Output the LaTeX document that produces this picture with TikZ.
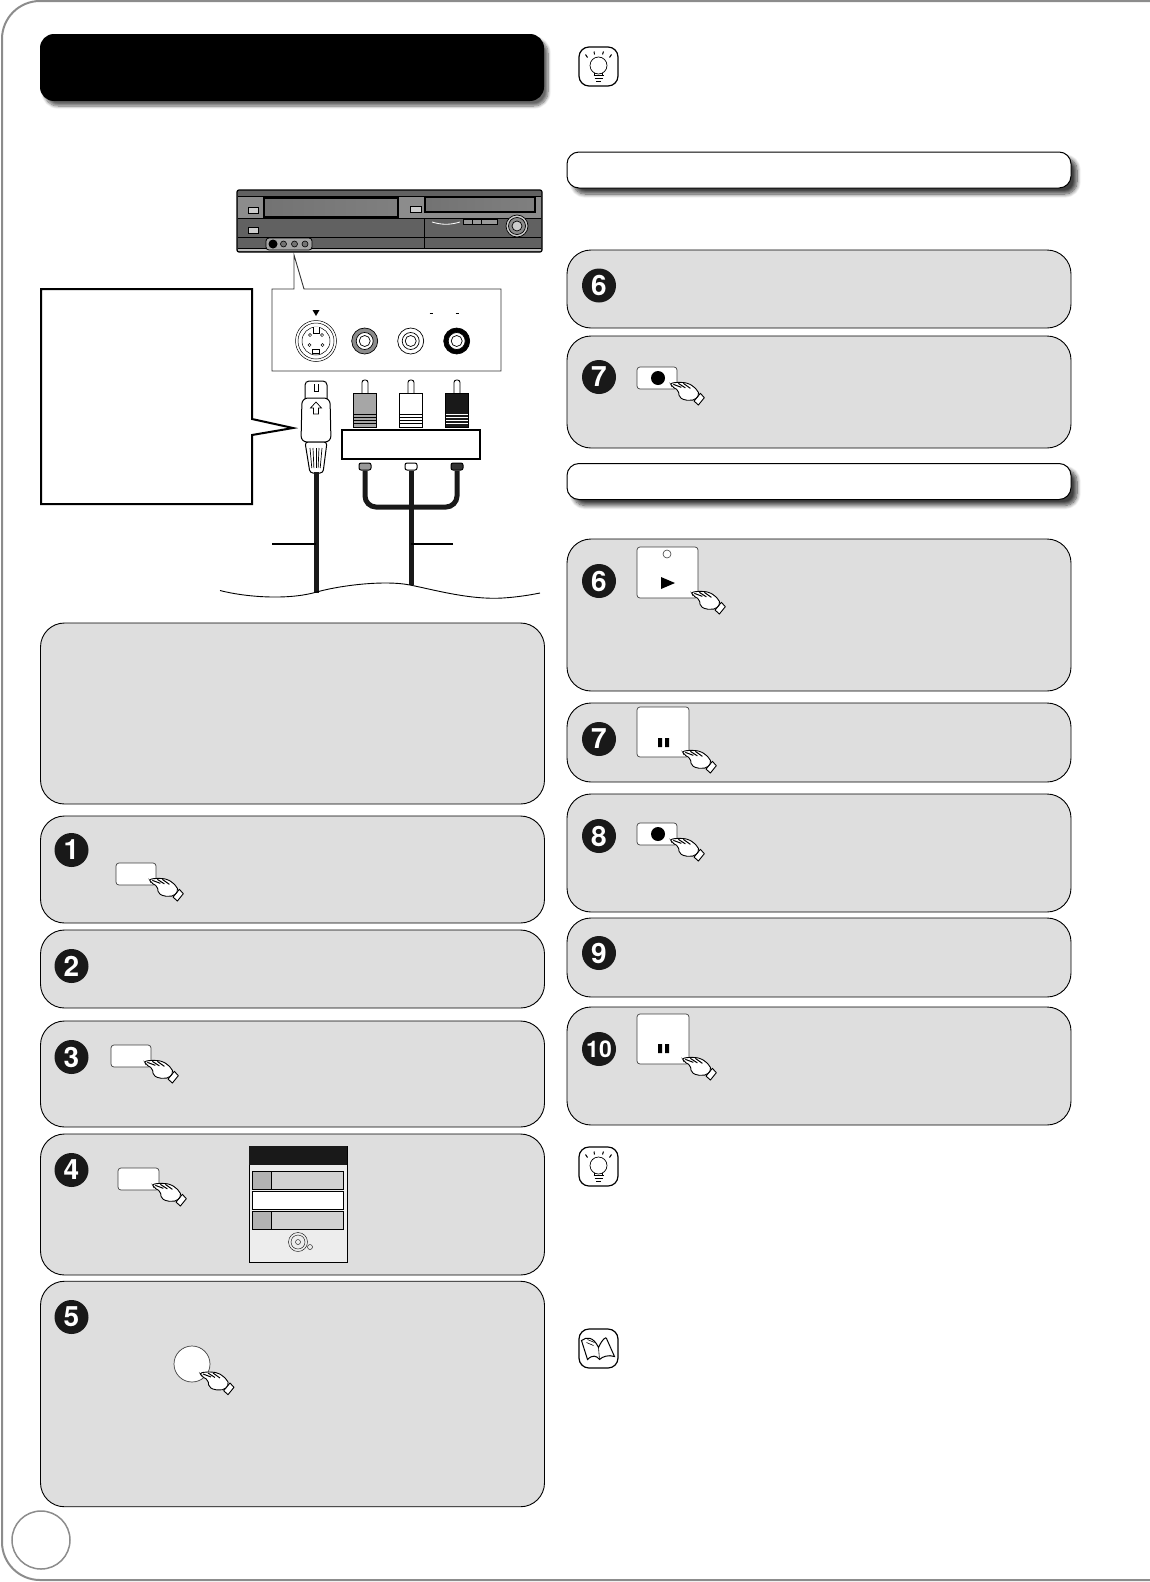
\documentclass[tikz,border=0pt]{standalone}
\usepackage{fontspec}
\setmainfont{TeX Gyre Heros}
\usepackage{xcolor}
\usepackage{tikz}
\usetikzlibrary{shapes.geometric, positioning, calc, shadows.blur}

\tikzset{
    panel/.style={rectangle, draw=black, line width=0.9pt, fill=black!13, rounded corners=24, minimum width=504, minimum height=#1, inner sep=0},
    titlebar/.style={rectangle, fill=black, rounded corners=14, minimum width=504, minimum height=67, inner sep=0,
        blur shadow={shadow xshift=4pt, shadow yshift=-5pt, shadow blur radius=3pt, shadow blur steps=8, shadow opacity=60}},
    subbar/.style={rectangle, draw=black, line width=1pt, fill=white, rounded corners=12, minimum width=504, minimum height=36, inner sep=0,
        blur shadow={shadow xshift=6pt, shadow yshift=-6pt, shadow blur radius=4pt, shadow blur steps=8, shadow opacity=75}},
    stepnum/.style={circle, fill=black!90, text=white, minimum size=34, inner sep=0, font=\fontsize{28}{28}\selectfont\bfseries},
    button/.style={rectangle, draw=black!75, fill=white, line width=0.7pt, rounded corners=3, minimum width=#1, inner sep=0},
    cable/.style={line width=5pt, black!90},
    thinline/.style={line width=1.2pt, black},
    menurow/.style={rectangle, draw=black, fill=#1, line width=0.8pt, minimum width=91, minimum height=18, inner sep=0},
    pics/hand/.style={code={
        \draw[fill=white, line width=0.9pt, line join=round, shift={(-7,-6)}] (30,10) -- (34,14.3) -- (28,21.7) -- (23.7,17.7) -- cycle;
        \draw[fill=white, line width=0.9pt, rounded corners=2, shift={(-7,-6)}] (0,0) -- (6,-1) -- (12,-1) -- (18,0) -- (23,3) -- (27,7) -- (29,11) -- (24.3,16.7)
            -- (15,17) -- (9,14) -- (8,7) -- (1.7,3.3) -- cycle;
        \draw[line width=1pt, shift={(-7,-6)}] (3,1) -- (11,4) (8,0) -- (15,4.5) (13,0) -- (20,5);
    }},
    pics/bulbicon/.style={code={
        \draw[line width=1.2pt, rounded corners=10] (-19.5,-19.5) rectangle (19.5,19.5);
        \draw[line width=0.7pt] (0,-1) circle (8.5);
        \draw[line width=0.7pt] (-4,6.5) -- (-4,9) (4,6.5) -- (4,9);
        \draw[line width=1.1pt] (-5,9) -- (5,9) (-4,12) -- (4,12) (-2.5,15) -- (2.5,15);
        \draw[line width=1pt] (-11,-9) -- (-13,-12) (-4,-12) -- (-4.5,-15) (4,-12) -- (5,-15) (11,-9) -- (13,-12);
    }},
    pics/bookicon/.style={code={
        \draw[line width=1.2pt, rounded corners=10] (-19.5,-19.5) rectangle (19.5,19.5);
        \draw[fill=white, line width=1pt] (-17,-8) .. controls (-12,-12) and (-5,-12) .. (0,-1) .. controls (4,-10) and (8,-12) .. (8,-10) -- (16,8)
            .. controls (10,6) and (4,8) .. (1,11) .. controls (-2,7) and (-6,6) .. (-11,11) -- cycle;
        \draw[line width=0.6pt] (0,-1) -- (1,11) (-11,-9) -- (-4,-6) (-12,-6) -- (-5,-3);
    }},
    pics/rcaplug/.style 2 args={code={
        \draw[fill=white, line width=0.9pt, rounded corners=2.5] (-3,13) -- (-3,0) -- (3,0) -- (3,13);
        \draw[fill=#1, line width=0.9pt] (-11.5,13) rectangle (11.5,47);
        \draw[#2, line width=1pt] (-11,34) -- (11,34) (-11,37) -- (11,37) (-11,40) -- (11,40) (-11,43) -- (11,43);
    }},
    pics/rcajack/.style={code={
        \draw[fill=#1, line width=0.7pt] (0,0) circle (13);
        \draw[fill=white, line width=0.7pt] (0,0) circle (8.5);
        \draw[line width=0.7pt] (0,0) circle (5.5);
    }},
}

\begin{document}
\begin{tikzpicture}[x=1pt, y=-1pt]
    \useasboundingbox (0,0) rectangle (1149,1582);
    \draw[black!45, line width=2pt, rounded corners=38] (1152,1) -- (2,1) -- (2,1580) -- (1152,1580);
    \node[circle, draw=black!45, line width=1.5pt, minimum size=58, inner sep=0] (pagenum) at (41,1540) {};

    \node[titlebar] (title) at (292,67.5) {};
    \pic at (598.5,66.5) {bulbicon};
    \node[subbar] (subA) at (819,170) {};
    \node[subbar] (subB) at (819,481.5) {};

    \node[panel=181] (prep) at (292.5,713.5) {};
    \node[panel=107] (panelA) at (292.5,869.5) {};
    \node[panel=78] (panelB) at (292.5,969) {};
    \node[panel=106] (panelC) at (292.5,1074) {};
    \node[panel=141] (panelD) at (292.5,1204.5) {};
    \node[panel=225.5] (panelE) at (292.5,1394) {};
    \node[panel=78] (panelF) at (819,289) {};
    \node[panel=112] (panelG) at (819,392) {};
    \node[panel=152] (panelH) at (819,615) {};
    \node[panel=79] (panelI) at (819,742.5) {};
    \node[panel=118] (panelJ) at (819,853) {};
    \node[panel=79] (panelK) at (819,957.5) {};
    \node[panel=118] (panelL) at (819,1066) {};

    \node[stepnum] (one) at (71.5,850) {1};
    \node[stepnum] (two) at (71.5,966) {2};
    \node[stepnum] (three) at (71.5,1057) {3};
    \node[stepnum] (four) at (71.5,1170) {4};
    \node[stepnum] (five) at (71.5,1317) {5};
    \node[stepnum] (sixA) at (599,285.5) {6};
    \node[stepnum] (sevenA) at (599,377) {7};
    \node[stepnum] (sixB) at (599,581) {6};
    \node[stepnum] (sevenB) at (599,739) {7};
    \node[stepnum] (eight) at (599,836) {8};
    \node[stepnum] (nine) at (599,953) {9};
    \node[stepnum, font=\fontsize{23}{23}\selectfont\bfseries] (ten) at (599,1049) {10};

    \node[button=40, minimum height=22] (btnA) at (136,874) {};
    \pic at (btnA.south east) {hand};
    \node[button=40, minimum height=22] (btnC) at (131,1056) {};
    \pic at (btnC.south east) {hand};
    \node[button=41, minimum height=22] (btnD) at (138.5,1179) {};
    \pic at (btnD.south east) {hand};
    \node[circle, draw=black!75, fill=white, line width=0.7pt, minimum size=36, inner sep=0] (btnE) at (192,1364) {};
    \pic at ([shift={(2,2)}]btnE.south east) {hand};
    \node[button=40, minimum height=22] (recA) at (657,378) {};
    \node[circle, fill=black, minimum size=14, inner sep=0] (recdotA) at (658,378) {};
    \pic at (recA.south east) {hand};
    \node[button=40, minimum height=22] (recB) at (657,834) {};
    \node[circle, fill=black, minimum size=14, inner sep=0] (recdotB) at (658,834) {};
    \pic at (recB.south east) {hand};
    \node[button=61, minimum height=51] (play) at (667.5,572.5) {};
    \node[circle, draw=black!75, line width=0.6pt, minimum size=8, inner sep=0] (playled) at (667,554) {};
    \fill[black] (661,577) -- (675,583) -- (661,589) -- cycle;
    \pic at (play.south east) {hand};
    \node[button=52, minimum height=50] (pauseA) at (663,732) {};
    \fill[black] (658,738) rectangle (662,747) (665,738) rectangle (669,747);
    \pic at (pauseA.south east) {hand};
    \node[button=52, minimum height=50] (pauseB) at (663,1039) {};
    \fill[black] (658,1044) rectangle (662,1053) (665,1044) rectangle (669,1053);
    \pic at (pauseB.south east) {hand};

    \draw[line width=0.9pt, fill=black!7] (249,1146) rectangle (347,1262);
    \fill[black!90] (249,1146) rectangle (347,1165);
    \node[menurow=black!18] (rowA) at (297.5,1180) {};
    \node[menurow=white] (rowB) at (297.5,1200) {};
    \node[menurow=black!18] (rowC) at (297.5,1220) {};
    \draw[fill=black!30, line width=0.8pt] (252,1171) rectangle (271,1189) (252,1211) rectangle (271,1229);
    \draw[line width=0.4pt] (298,1242) circle (9.5) (298,1242) circle (7) (298,1242) circle (2.5);
    \draw[line width=0.4pt] (310,1247) circle (2.5);

    \pic at (598.5,1166.5) {bulbicon};
    \pic at (598.5,1348.5) {bookicon};

    \draw[black, fill=black!62, line width=1.2pt, rounded corners=2] (237,190) rectangle (542,252);
    \fill[black!45] (238,196) rectangle (541,218);
    \fill[black!25] (238,248.5) rectangle (541,251);
    \draw[line width=0.8pt] (238,196) -- (541,196) (238,218) -- (541,218) (238,237.5) -- (541,237.5) (238,248.5) -- (541,248.5) (424,218) -- (424,248.5);
    \draw[line width=1.2pt, left color=black!55, middle color=black!35, right color=black!50] (264,198) rectangle (398,217);
    \draw[line width=1.2pt, left color=black!55, middle color=black!30, right color=black!50] (425,197) rectangle (535,212);
    \draw[line width=1pt, fill=black!20] (248,207) rectangle (258,213) (410,206) rectangle (421,212) (248,227) rectangle (258,233);
    \draw[line width=0.6pt, fill=black!40] (463,219) rectangle (472,224) (472,219) rectangle (481,224) (481,219) rectangle (497,224);
    \draw[white, line width=0.8pt] (432,222) .. controls (442,225) and (450,225) .. (460,222);
    \draw[line width=0.7pt, fill=black!20] (517,226) circle (11);
    \draw[line width=0.7pt, fill=black!45] (517,226) circle (8.5);
    \draw[line width=0.7pt, fill=black!20] (517,226) circle (5);
    \draw[line width=0.8pt, fill=black!35, rounded corners=3] (266,238) rectangle (312,250);
    \fill[black] (273,244) circle (4.5);
    \foreach \jx in {283.5,294.5,305} \draw[line width=0.6pt, fill=black!55] (\jx,244) circle (3);

    \draw[black!80, line width=0.9pt, fill=white] (272,289) -- (294,289) -- (294,255) -- (304,289) -- (501,289) -- (501,371) -- (272,371) -- cycle;
    \fill[black] (312.5,310) -- (319.5,310) -- (316,316) -- cycle;
    \draw[line width=0.8pt] (429.5,313) -- (432.5,313) (455.5,313) -- (458.5,313);
    \draw[line width=0.5pt, fill=white] (316,341) circle (20.5) (316,341) circle (18) (316,341) circle (14);
    \draw[line width=0.5pt, fill=white] (312.5,349) rectangle (319.5,353);
    \draw[line width=0.5pt, fill=white] (313,327) -- (313,333) -- (319,333) -- (319,327);
    \foreach \px/\py in {310/335,322/335,309.5/345,322.5/345} \draw[line width=0.5pt, fill=white] (\px,\py) circle (1.6);
    \pic at (364.7,341) {rcajack=black!45};
    \pic at (410.7,341) {rcajack=white};
    \pic at (456.7,341) {rcajack=black};

    \draw[line width=1pt, fill=white, rounded corners=4] (305,402) -- (305,381) -- (327,381) -- (327,402);
    \draw[line width=0.6pt] (314,384) -- (314,391) -- (318,391) -- (318,384);
    \draw[line width=1pt, fill=white, rounded corners=6] (302,398) -- (301,442) -- (331,442) -- (330,398) -- cycle;
    \draw[line width=0.7pt, fill=white] (316,402) -- (321.5,408) -- (318.5,408) -- (318.5,414) -- (313.5,414) -- (313.5,408) -- (310.5,408) -- cycle;
    \draw[line width=1pt, fill=white, rounded corners=3] (305,442) -- (327,442) -- (323,473) -- (310,473) -- cycle;
    \foreach \rx in {-6,-3,0,3,6} \draw[line width=0.7pt] ($(316,448)+(\rx,0)$) -- ($(316,468)+(0.7*\rx,0)$);
    \node[minimum size=0, inner sep=0] (splug) at (316,472) {};

    \pic at (365,380) {rcaplug={black!35}{black}};
    \pic at (411,380) {rcaplug={white}{black}};
    \pic at (457,380) {rcaplug={black!90}{white}};
    \node[rectangle, draw=black, fill=white, line width=1.8pt, minimum width=138, minimum height=29, inner sep=0] (adapter) at (411,444.5) {};

    \node[rectangle, draw=black, fill=black!40, line width=1pt, rounded corners=2, minimum width=12, minimum height=7, inner sep=0] (conL) at (365,466.5) {};
    \node[rectangle, draw=black, fill=white, line width=1pt, rounded corners=2, minimum width=12, minimum height=7, inner sep=0] (conM) at (411,466.5) {};
    \node[rectangle, draw=black, fill=black!80, line width=1pt, rounded corners=2, minimum width=12, minimum height=7, inner sep=0] (conR) at (457,466.5) {};

    \coordinate (forkL) at (365,507);
    \coordinate (forkR) at (457,507);
    \coordinate (endS) at (316,593);
    \coordinate (endV) at (411,585);
    \coordinate (labelS) at (272,544);
    \coordinate (labelV) at (453,544);
    \draw[cable, rounded corners=11] (conL.south) -- (forkL) -- (forkR) -- (conR.south);
    \draw[cable] (conM.south) -- (endV);
    \draw[cable] (splug) -- (endS);
    \draw[thinline] (labelS) -- (splug |- labelS);
    \draw[thinline] (labelV) -- (endV |- labelV);
    \draw[line width=0.9pt] (220,590.5) .. controls (245,597) and (285,600) .. (313,593) .. controls (340,585) and (385,580) .. (410,585) .. controls (435,590) and (470,600) .. (503,598) .. controls (518,597) and (530,595) .. (540,593);

    \draw[black, fill=white, line width=2pt] (41,289) -- (252,289) -- (252,419) -- (293,428) -- (252,435) -- (252,504) -- (41,504) -- cycle;
\end{tikzpicture}
\end{document}
